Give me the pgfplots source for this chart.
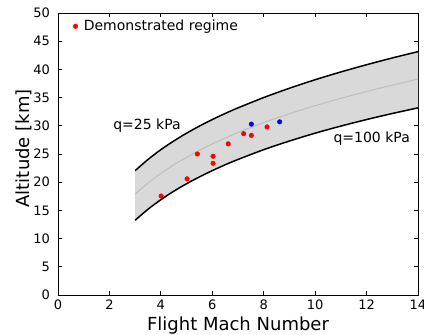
\documentclass[border=0pt]{standalone}
\usepackage{fontspec}
\setmainfont{DejaVu Sans}
\usepackage{pgfplots}
\pgfplotsset{compat=1.18}
\usepgfplotslibrary{fillbetween}
\definecolor{bandfill}{HTML}{D9D9D9}
\definecolor{midline}{HTML}{BDBDBD}
\begin{document}
\begin{tikzpicture}
\begin{axis}[
  name=ax,
  width=360pt, height=282pt, scale only axis,
  xmin=0, xmax=14, ymin=0, ymax=50,
  xtick={0,2,...,14}, ytick={0,5,...,50},
  xtick pos=both, ytick pos=both,
  tick align=inside, major tick length=4pt,
  axis line style={line width=0.9pt},
  every tick/.style={line width=0.8pt, black},
  /pgf/number format/assume math mode=true,
  tick label style={font=\fontsize{13}{15}\selectfont},
  xticklabel style={inner sep=0pt, anchor=north, yshift=-5pt},
  yticklabel style={inner sep=0pt, anchor=east, xshift=-8pt},
  xlabel={Flight Mach Number},
  ylabel={Altitude [km]},
  label style={font=\fontsize{18}{21}\selectfont},
  xlabel style={at={(axis description cs:0.5,0)}, anchor=base, yshift=-35.7pt, inner sep=0pt},
  ylabel style={at={(axis description cs:0,0.52)}, anchor=base, yshift=28.5pt, inner sep=0pt},
  legend style={at={(axis description cs:0,1)}, anchor=north west, draw=none, fill=none,
    xshift=12pt, yshift=-3pt, font=\fontsize{14}{16}\selectfont,
    /tikz/every odd column/.append style={column sep=4pt}},
  legend cell align=left,
  clip=false,
]
\addplot[name path=U, draw=none, smooth, forget plot] coordinates {
 (3,22.05) (3.5,24.03) (4,25.77) (4.5,27.30) (5,28.69) (5.5,29.95) (6,31.11) (6.5,32.18)
 (7,33.18) (8,35.01) (9,36.66) (10,38.17) (11,39.55) (12,40.83) (13,42.03) (14,43.15)};
\addplot[name path=L, draw=none, smooth, forget plot] coordinates {
 (3,13.25) (3.5,15.20) (4,16.90) (4.5,18.39) (5,19.73) (5.5,20.94) (6,22.05) (6.5,23.08)
 (7,24.03) (8,25.77) (9,27.30) (10,28.69) (11,29.95) (12,31.11) (13,32.18) (14,33.18)};
\addplot[bandfill, forget plot] fill between[of=U and L];
\addplot[black, line width=1.5pt, smooth, forget plot] coordinates {
 (3,22.05) (3.5,24.03) (4,25.77) (4.5,27.30) (5,28.69) (5.5,29.95) (6,31.11) (6.5,32.18)
 (7,33.18) (8,35.01) (9,36.66) (10,38.17) (11,39.55) (12,40.83) (13,42.03) (14,43.15)};
\addplot[black, line width=1.5pt, smooth, forget plot] coordinates {
 (3,13.25) (3.5,15.20) (4,16.90) (4.5,18.39) (5,19.73) (5.5,20.94) (6,22.05) (6.5,23.08)
 (7,24.03) (8,25.77) (9,27.30) (10,28.69) (11,29.95) (12,31.11) (13,32.18) (14,33.18)};
\addplot[midline, line width=1pt, smooth, forget plot] coordinates {
 (3,17.9) (3.5,19.85) (4,21.55) (4.5,23.06) (5,24.41) (5.5,25.65) (6,26.78) (6.5,27.83)
 (7,28.81) (8,30.57) (9,32.14) (10,33.57) (11,34.87) (12,36.08) (13,37.21) (14,38.27)};
\addplot[only marks, mark=*, mark size=2.3pt, red, draw=none, mark options={fill=red, draw=red}] coordinates {
 (4.01,17.55) (5.02,20.6) (5.42,25.0) (6.03,24.6) (6.03,23.35) (6.62,26.8) (7.22,28.6) (7.52,28.3) (8.13,29.8)};
\addlegendentry{Demonstrated regime}
\addplot[only marks, mark=*, mark size=2.3pt, blue, draw=none, mark options={fill=blue, draw=blue}, forget plot] coordinates {
 (7.52,30.3) (8.62,30.7)};
\node[font=\fontsize{14}{16}\selectfont, inner sep=0pt] at (axis cs:3.46,30.1) {q=25 kPa};
\node[font=\fontsize{14}{16}\selectfont, inner sep=0pt] at (axis cs:12.2,27.7) {q=100 kPa};
\end{axis}
\pgfresetboundingbox
\path[use as bounding box] ([xshift=-58pt,yshift=-40pt]ax.south west) rectangle ([xshift=6pt,yshift=13pt]ax.north east);
\end{tikzpicture}
\end{document}
